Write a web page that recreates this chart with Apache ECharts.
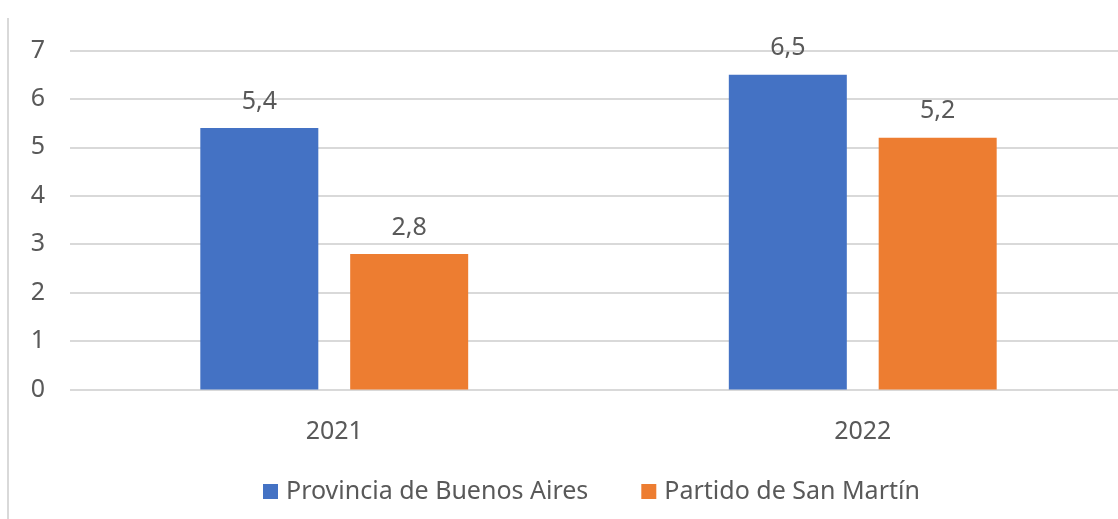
<!DOCTYPE html>
<html>
<head>
<meta charset="utf-8">
<script src="https://cdn.jsdelivr.net/npm/echarts@6/dist/echarts.min.js"></script>
<style>
  html, body { margin: 0; padding: 0; background: #fff; }
  #chart { width: 1118px; height: 519px; }
</style>
</head>
<body>
<div id="chart"></div>
<script>
var years = ['2021', '2022'];
var provincia = [5.4, 6.5];
var sanMartin = [2.8, 5.2];
var seriesNames = ['Provincia de Buenos Aires', 'Partido de San Martín'];

var font = '"Noto Sans", "Open Sans", sans-serif';
var textColor = '#595959';

var chart = echarts.init(document.getElementById('chart'));

function commaLabel(p) {
  return String(p.value).replace('.', ',');
}

chart.setOption({
  animation: false,
  textStyle: {fontFamily: font},
  grid: {left: 70, width: 1057, top: 50.5, bottom: 129.5, outerBoundsMode: 'none', containLabel: false},
  graphic: [{
    type: 'line',
    shape: {x1: 8, y1: 18, x2: 8, y2: 519},
    style: {stroke: '#d9d9d9', lineWidth: 2}
  }],
  legend: {
    bottom: 10,
    left: 258,
    itemWidth: 15,
    itemHeight: 15,
    itemGap: 53,
    icon: 'rect',
    textStyle: {fontFamily: font, fontSize: 25, color: textColor, padding: [0, 0, 0, 3]},
    data: seriesNames
  },
  xAxis: {
    type: 'category',
    data: years,
    axisLine: {show: false},
    axisTick: {show: false},
    axisLabel: {fontFamily: font, fontSize: 25, color: textColor, margin: 30}
  },
  yAxis: {
    type: 'value',
    min: 0,
    max: 7,
    interval: 1,
    axisLine: {show: false},
    axisTick: {show: false},
    splitLine: {lineStyle: {color: '#d9d9d9', width: 2}},
    axisLabel: {fontFamily: font, fontSize: 25, color: textColor, margin: 25}
  },
  series: [
    {
      name: seriesNames[0],
      type: 'bar',
      data: provincia,
      barWidth: 118,
      barGap: '27%',
      itemStyle: {color: '#4472c4'},
      label: {show: true, position: 'top', distance: 14, fontSize: 25, color: textColor, formatter: commaLabel}
    },
    {
      name: seriesNames[1],
      type: 'bar',
      data: sanMartin,
      barWidth: 118,
      barGap: '27%',
      itemStyle: {color: '#ed7d31'},
      label: {show: true, position: 'top', distance: 14, fontSize: 25, color: textColor, formatter: commaLabel}
    }
  ]
});
</script>
</body>
</html>
